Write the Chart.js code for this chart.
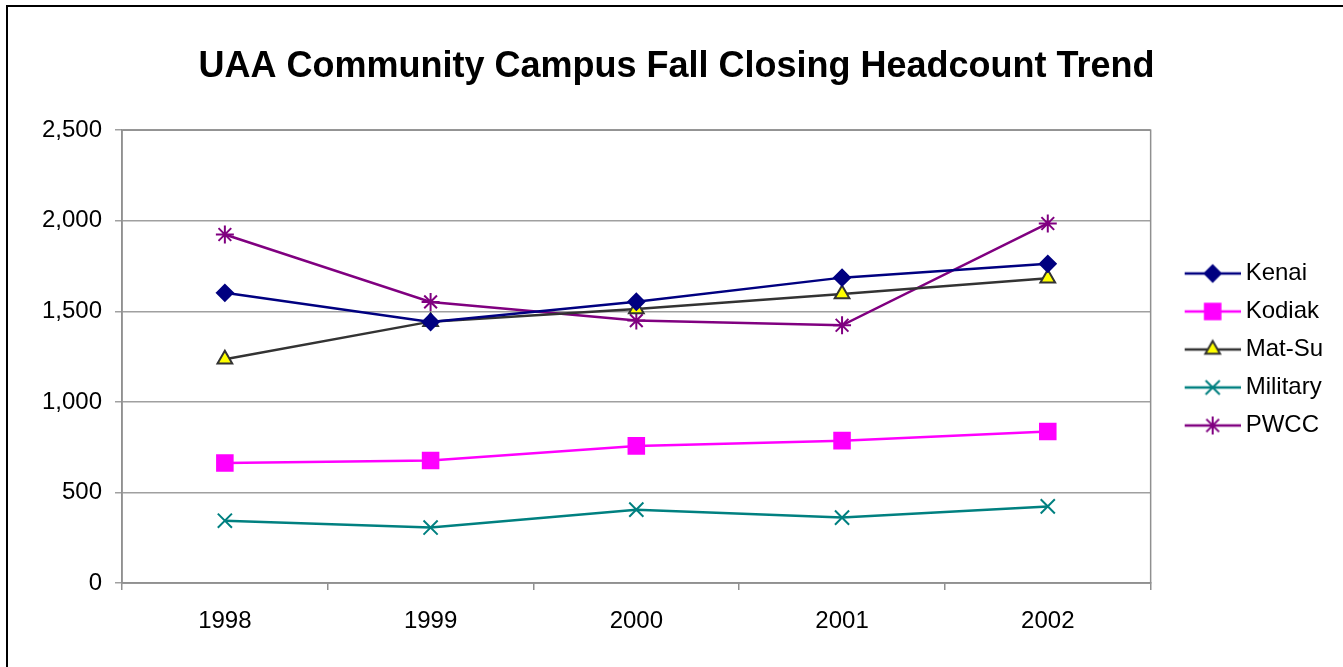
<!DOCTYPE html>
<html>
<head>
<meta charset="utf-8">
<title>UAA Community Campus Fall Closing Headcount Trend</title>
<script src="https://cdn.jsdelivr.net/npm/chart.js@4/dist/chart.umd.min.js"></script>
<style>
  html, body { margin: 0; padding: 0; background: #fff; overflow: hidden; }
  #wrap { position: relative; width: 1343px; height: 667px; }
  #frame { position: absolute; left: 6px; top: 5px; width: 2000px; height: 2000px; border: 2px solid #000; pointer-events: none; }
</style>
</head>
<body>
<div id="wrap">
  <canvas id="chart" width="1343" height="667"></canvas>
  <div id="frame"></div>
</div>
<script>
const years = ['1998', '1999', '2000', '2001', '2002'];
const kenai = [1602, 1441, 1553, 1686, 1762];
const kodiak = [663, 676, 757, 786, 836];
const matSu = [1235, 1443, 1513, 1596, 1683];
const military = [344, 306, 405, 361, 423];
const pwcc = [1924, 1552, 1449, 1423, 1985];
const yTicks = [0, 500, 1000, 1500, 2000, 2500];

const fontFamily = "'Liberation Sans', Arial, sans-serif";

const series = [
  { label: 'Kenai', data: kenai, color: '#000080', fill: '#000080', style: 'rectRot', radius: 8 },
  { label: 'Kodiak', data: kodiak, color: '#FF00FF', fill: '#FF00FF', style: 'rect', radius: 11 },
  { label: 'Mat-Su', data: matSu, color: '#333333', fill: '#FFFF00', style: 'triangle', radius: 8.5 },
  { label: 'Military', data: military, color: '#008080', fill: '#008080', style: 'crossRot', radius: 10 },
  { label: 'PWCC', data: pwcc, color: '#800080', fill: '#800080', style: 'star', radius: 9 }
];

// little line + marker picture for each legend entry
function legendIcon(s) {
  const c = document.createElement('canvas');
  c.width = 83;
  c.height = 26;
  const ctx = c.getContext('2d');
  ctx.strokeStyle = s.color;
  ctx.lineWidth = 2.5;
  ctx.beginPath();
  ctx.moveTo(27, 13);
  ctx.lineTo(83, 13);
  ctx.stroke();
  ctx.fillStyle = s.fill;
  ctx.strokeStyle = s.color;
  ctx.lineWidth = 2;
  Chart.helpers.drawPoint(ctx, { pointStyle: s.style, radius: s.radius, borderWidth: 2, rotation: 0 }, 55, 13);
  return c;
}

const plotBorder = {
  id: 'plotBorder',
  beforeDatasetsDraw(chart) {
    const { ctx, chartArea: a } = chart;
    ctx.save();
    ctx.strokeStyle = '#909090';
    ctx.lineWidth = 1.5;
    ctx.strokeRect(a.left, a.top, a.right - a.left, a.bottom - a.top);
    ctx.restore();
  }
};

const legendShift = {
  id: 'legendShift',
  afterLayout(chart) {
    chart.legend.top += 16;
    chart.legend.bottom += 16;
  }
};

new Chart(document.getElementById('chart').getContext('2d'), {
  type: 'line',
  data: {
    labels: years,
    datasets: series.map(s => ({
      label: s.label,
      data: s.data,
      borderColor: s.color,
      backgroundColor: s.fill,
      borderWidth: 2.5,
      pointStyle: s.style,
      pointRadius: s.radius,
      pointBorderColor: s.color,
      pointBackgroundColor: s.fill,
      pointBorderWidth: 2,
      tension: 0
    }))
  },
  options: {
    responsive: false,
    animation: false,
    layout: { padding: { left: 20, right: 10, top: 0, bottom: 0 } },
    plugins: {
      title: {
        display: true,
        text: 'UAA Community Campus Fall Closing Headcount Trend',
        color: '#000',
        font: { family: fontFamily, size: 36, weight: 'bold' },
        padding: { top: 45, bottom: 42 }
      },
      legend: {
        position: 'right',
        labels: {
          color: '#000',
          font: { family: fontFamily, size: 24 },
          usePointStyle: true,
          pointStyleWidth: 69,
          padding: 14,
          generateLabels: () => series.map((s, i) => ({
            text: s.label,
            pointStyle: legendIcon(s),
            datasetIndex: i,
            fillStyle: s.fill,
            strokeStyle: s.color,
            lineWidth: 0,
            hidden: false
          }))
        }
      },
      tooltip: { enabled: false }
    },
    scales: {
      x: {
        offset: true,
        grid: { offset: true, drawOnChartArea: false, color: '#909090', tickLength: 7, lineWidth: 1.5 },
        border: { color: '#909090', width: 1.5 },
        ticks: { color: '#000', font: { family: fontFamily, size: 24 }, padding: 17, maxRotation: 0 },
        afterFit(scale) { scale.height = 84; }
      },
      y: {
        min: 0,
        max: 2500,
        afterBuildTicks(scale) { scale.ticks = yTicks.map(v => ({ value: v })); },
        grid: { color: '#a0a0a0', tickLength: 7, lineWidth: 1.5 },
        border: { color: '#909090', width: 1.5 },
        ticks: {
          color: '#000',
          font: { family: fontFamily, size: 24 },
          padding: 13,
          callback: v => v.toLocaleString('en-US')
        },
        afterFit(scale) { scale.width = 102; }
      }
    }
  },
  plugins: [plotBorder, legendShift]
});
</script>
</body>
</html>
